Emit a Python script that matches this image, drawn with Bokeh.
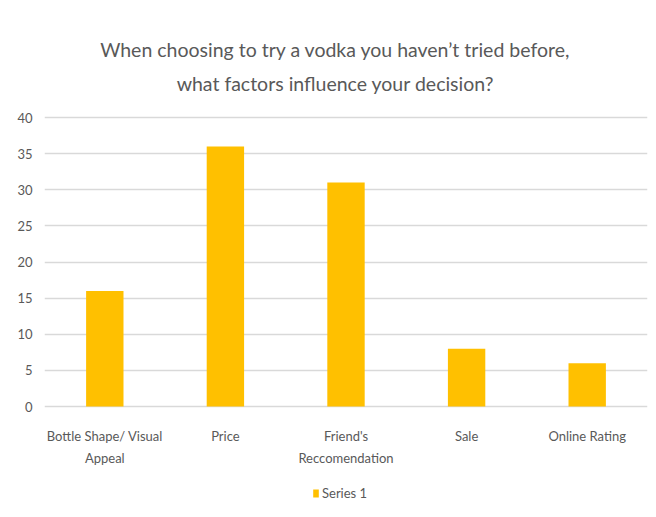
from bokeh.plotting import figure
from bokeh.models import Legend, LegendItem, Range1d, FixedTicker, Label
from bokeh.core.properties import value
from bokeh.embed import file_html
from bokeh.resources import INLINE

categories = ["Bottle Shape/ Visual Appeal", "Price", "Friend's Reccomendation", "Sale", "Online Rating"]
tick_line_1 = ["Bottle Shape/ Visual", "Price", "Friend's", "Sale", "Online Rating"]
tick_line_2 = ["Appeal", "", "Reccomendation", "", ""]
series_1 = [16, 36, 31, 8, 6]
y_ticks = [0, 5, 10, 15, 20, 25, 30, 35, 40]
title_lines = ["When choosing to try a vodka you haven\u2019t tried before,", "what factors influence your decision?"]

FONT = "Lato"
GRAY = "#595959"
W, H = 656, 517
LEFT, RIGHT = 44, 647          # frame edges (px)
Y40_PX, Y0_PX = 117, 406       # pixel rows of 40 and 0
y_max_val = 40

ppu_y = (Y0_PX - Y40_PX) / y_max_val
ppu_x = (RIGHT - LEFT) / len(categories)
def ydata(py):
    return (Y0_PX - py) / ppu_y
def xdata(px):
    return (px - LEFT) / ppu_x - 0.5

xs = list(range(len(categories)))

p = figure(width=W, height=H, x_range=Range1d(-0.5, len(categories) - 0.5),
           y_range=Range1d(ydata(H), ydata(0)),
           output_backend="svg", toolbar_location=None, x_axis_location=None,
           min_border_left=LEFT, min_border_right=W - RIGHT, min_border_top=0, min_border_bottom=0)
p.outline_line_color = None
p.background_fill_color = "white"
p.border_fill_color = "white"

r = p.vbar(x=xs, top=series_1, width=0.31, fill_color="#FFC000", line_color=None)

p.yaxis.ticker = FixedTicker(ticks=y_ticks)
p.yaxis.axis_line_color = None
p.yaxis.major_tick_line_color = None
p.yaxis.minor_tick_line_color = None
p.yaxis.major_tick_out = 0
p.yaxis.major_tick_in = 0
p.yaxis.major_label_text_font = FONT
p.yaxis.major_label_text_font_size = "13px"
p.yaxis.major_label_text_color = GRAY
p.yaxis.major_label_standoff = 12

p.xgrid.grid_line_color = None
p.ygrid.grid_line_color = "#D9D9D9"
p.ygrid.grid_line_width = 1.5

# category labels (two lines)
for lines, py in [(tick_line_1, 435), (tick_line_2, 457)]:
    p.text(x=xs, y=[ydata(py)] * len(xs), text=lines, text_align="center", text_baseline="alphabetic",
           text_font=value(FONT), text_font_size="13px", text_color=GRAY)

# title
for txt, py in [(title_lines[0], 49), (title_lines[1], 83)]:
    p.add_layout(Label(x=xdata(335), y=ydata(py), text=txt, text_align="center",
                       text_baseline="alphabetic", text_font=FONT, text_font_size="19.5px",
                       text_color=GRAY))

legend = Legend(items=[LegendItem(label="Series 1", renderers=[r])], location=(312 - LEFT, 16),
                orientation="horizontal", border_line_color=None, background_fill_alpha=0,
                padding=0, margin=0, glyph_width=7, glyph_height=10, label_standoff=3,
                label_text_font=FONT, label_text_font_size="13px", label_text_color=GRAY)
p.add_layout(legend, "center")

open("out.html", "w").write(file_html(p, INLINE))
